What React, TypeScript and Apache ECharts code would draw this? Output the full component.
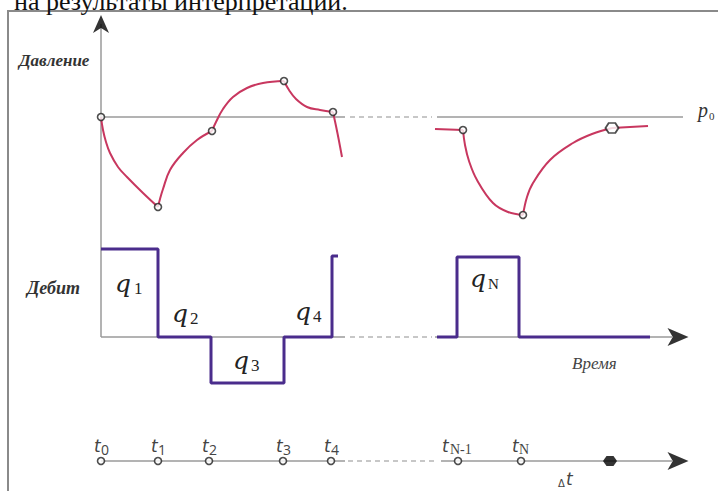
import React, { useEffect, useRef } from "react";
import * as echarts from "echarts";

const W = 718;
const H = 491;

// time axis positions (abstract time, px units of the diagram)
const timeNames = ["0", "1", "2", "3", "4", "N-1", "N"];
const timeX = [101, 158, 209, 283, 331, 458, 521];
const futureX = 610;
const timeAxisY = 461;

// reference levels
const p0Y = 117;
const rateZeroY = 337;
const axisLeftX = 101;
const axisTopY = 24;

// pressure curve segments [x, y]
const pSeg1 = [[101, 117], [103, 130], [106, 142], [110, 153], [118, 167], [127, 177], [143, 193], [158, 207]];
const pSeg2 = [[158, 207], [160, 199], [163, 189], [170, 170], [183, 153], [197, 140], [212, 131]];
const pSeg3 = [[212, 131], [216, 122], [223, 109], [233, 97], [247, 88], [263, 83], [284, 81]];
const pSeg4 = [[284, 81], [289, 90], [296, 99], [307, 107], [320, 110], [333, 112]];
const pSeg5 = [[333, 112], [336, 126], [339, 141], [342, 157]];
const pSeg6 = [[435, 129], [463, 130]];
const pSeg7 = [[463, 130], [465, 145], [469, 161], [477, 180], [493, 203], [508, 212], [523, 215]];
const pSeg8 = [[523, 215], [527, 197], [533, 183], [550, 160], [573, 143], [592, 134], [612, 128]];
const pSeg9 = [[612, 128], [648, 126]];
const pressureMarkers = [[101, 117], [158, 207], [212, 131], [284, 81], [333, 112], [463, 130], [523, 215]];
const pressureLast = [[612, 128]];

// rate steps [x, y]
const rateSteps1 = [[101, 249], [158, 249], [158, 337], [211, 337], [211, 383], [284, 383], [284, 337], [332, 337], [332, 256], [338, 256]];
const rateSteps2 = [[437, 337], [457, 337], [457, 257], [519, 257], [519, 337], [650, 337]];

// rate labels: [subscript, q x, q body centre y, sub x, sub centre y]
const rateLabels: [string, number, number, number, number][] = [
  ["1", 115, 286, 134, 288],
  ["2", 172, 316, 190, 318],
  ["3", 233, 363, 251, 365],
  ["4", 295, 314, 313, 316],
  ["N", 470, 281, 488, 284],
];

const GRAY = "#9a9a9a";
const RED = "#c8375f";
const PURPLE = "#4a2c8c";

const arrowUp = "path://M0,0 L8,18 L0,13 L-8,18 Z";
const arrowRight = "path://M0,0 L-20,-9 L-15,0 L-20,9 Z";
const hexSym = "path://M-7,0 L-3.5,-5 L3.5,-5 L7,0 L3.5,5 L-3.5,5 Z";

const SERIF = "'Liberation Serif', 'DejaVu Serif', serif";
const QFONT = "'DejaVu Serif', serif";
const SANS = "'DejaVu Sans', sans-serif";

function line(data: number[][], color: string, width: number, opts: any = {}) {
  return {
    type: "line",
    data,
    showSymbol: false,
    symbol: "none",
    silent: true,
    lineStyle: { color, width, ...opts.lineStyle },
    smooth: opts.smooth ?? false,
    z: opts.z ?? 2,
  };
}

function txt(text: string, x: number, y: number, style: any) {
  return {
    type: "text",
    x,
    y,
    silent: true,
    style: { text, align: "left", verticalAlign: "middle", ...style },
  };
}

export default function App() {
  const ref = useRef<HTMLDivElement>(null);
  useEffect(() => {
    if (!ref.current) return;
    const chart = echarts.init(ref.current, null, { renderer: "svg" });
    const series: any[] = [];
    // p0 line
    series.push(line([[axisLeftX, p0Y], [345, p0Y]], GRAY, 1.5));
    series.push(line([[350, p0Y], [432, p0Y]], "#b5b5b5", 1.5, { lineStyle: { type: [5, 4] } }));
    series.push(line([[437, p0Y], [683, p0Y]], GRAY, 1.5));
    // vertical axis
    series.push(line([[axisLeftX, axisTopY], [axisLeftX, rateZeroY]], GRAY, 1.5));
    // rate zero line
    series.push(line([[axisLeftX, rateZeroY], [345, rateZeroY]], GRAY, 1.5));
    series.push(line([[350, rateZeroY], [432, rateZeroY]], "#b5b5b5", 1.5, { lineStyle: { type: [5, 4] } }));
    series.push(line([[435, rateZeroY], [672, rateZeroY]], GRAY, 1.5));
    // time axis
    series.push(line([[axisLeftX, timeAxisY], [345, timeAxisY]], GRAY, 1.5));
    series.push(line([[348, timeAxisY], [438, timeAxisY]], "#b5b5b5", 1.5, { lineStyle: { type: [5, 4] } }));
    series.push(line([[441, timeAxisY], [672, timeAxisY]], GRAY, 1.5));
    // pressure curves
    [pSeg1, pSeg2, pSeg3, pSeg4, pSeg5, pSeg7, pSeg8].forEach((s) =>
      series.push(line(s, RED, 2, { smooth: 0.4, z: 3 }))
    );
    [pSeg6, pSeg9].forEach((s) => series.push(line(s, RED, 2, { z: 3 })));
    // rate steps
    series.push(line(rateSteps1, PURPLE, 3, { z: 4 }));
    series.push(line(rateSteps2, PURPLE, 3, { z: 4 }));
    // markers
    series.push({
      type: "scatter",
      data: pressureMarkers,
      symbol: "circle",
      symbolSize: 7,
      itemStyle: { color: "#fff", borderColor: "#222", borderWidth: 1.6 },
      z: 5,
      silent: true,
    });
    series.push({
      type: "scatter",
      data: pressureLast,
      symbol: hexSym,
      symbolSize: [13, 10],
      itemStyle: { color: "#fff", borderColor: "#222", borderWidth: 1.8 },
      z: 5,
      silent: true,
    });
    series.push({
      type: "scatter",
      data: timeX.map((x) => [x, timeAxisY]),
      symbol: "circle",
      symbolSize: 7,
      itemStyle: { color: "#fff", borderColor: "#222", borderWidth: 1.6 },
      z: 5,
      silent: true,
    });
    series.push({
      type: "scatter",
      data: [[futureX, timeAxisY]],
      symbol: hexSym,
      symbolSize: [14, 10],
      itemStyle: { color: "#000" },
      z: 5,
      silent: true,
    });
    // arrows
    series.push({
      type: "scatter",
      data: [[axisLeftX, 24]],
      symbol: arrowUp,
      symbolSize: [16, 18],
      itemStyle: { color: "#000" },
      z: 6,
      silent: true,
    });
    series.push({
      type: "scatter",
      data: [[678, rateZeroY], [678, timeAxisY]],
      symbol: arrowRight,
      symbolSize: [21, 18],
      itemStyle: { color: "#000" },
      z: 6,
      silent: true,
    });

    const graphics: any[] = [
      {
        type: "polyline",
        shape: { points: [[8, H], [8, 11], [W, 11]] },
        style: { stroke: "#8a8a8a", lineWidth: 2, fill: "none" },
        silent: true,
      },
      {
        type: "text",
        x: 14,
        y: 14,
        silent: true,
        style: {
          text: "на результаты интерпретации.",
          fontSize: 26,
          fontFamily: SERIF,
          fill: "#111",
          align: "left",
          verticalAlign: "bottom",
        },
      },
      txt("Давление", 19, 60, { fontSize: 17, fontStyle: "italic", fontWeight: "bold", fontFamily: SERIF, fill: "#333" }),
      txt("Дебит", 27, 288, { fontSize: 18, fontStyle: "italic", fontWeight: "bold", fontFamily: SERIF, fill: "#333" }),
      txt("Время", 572, 363, { fontSize: 17, fontStyle: "italic", fontFamily: SERIF, fill: "#444" }),
      txt("p", 698, 110, { fontSize: 20, fontStyle: "italic", fontFamily: SERIF, fill: "#333" }),
      txt("0", 709, 116, { fontSize: 11, fontFamily: SERIF, fill: "#333" }),
      txt("Δ", 558, 483, { fontSize: 10, fontFamily: SANS, fill: "#444" }),
      txt("t", 566, 479, { fontSize: 17, fontStyle: "italic", fontFamily: SANS, fill: "#444" }),
    ];
    rateLabels.forEach(([sub, qx, qy, sx, sy]) => {
      graphics.push(txt("q", qx, qy - 3, { fontSize: 25, fontStyle: "italic", fontFamily: QFONT, fill: "#222" }));
      graphics.push(txt(sub, sx, sy, { fontSize: sub === "N" ? 15 : 17, fontFamily: SERIF, fill: "#222" }));
    });
    timeNames.forEach((name, i) => {
      const x = timeX[i];
      const isNm1 = name === "N-1";
      const isN = name === "N";
      const tx = isNm1 ? x - 16 : isN ? x - 9 : x - 7;
      const sx = isNm1 ? x - 8 : isN ? x - 2 : x;
      graphics.push(txt("t", tx, 446, { fontSize: 17, fontStyle: "italic", fontFamily: SANS, fill: "#444" }));
      graphics.push(
        txt(name, sx, 449, {
          fontSize: 14,
          fontFamily: isNm1 || isN ? SERIF : "'Open Sans', sans-serif",
          fill: "#444",
        })
      );
    });

    chart.setOption({
      animation: false,
      grid: { left: 0, right: 0, top: 0, bottom: 0 },
      xAxis: { type: "value", min: 0, max: W, show: false },
      yAxis: { type: "value", min: 0, max: H, inverse: true, show: false },
      series,
      graphic: graphics,
    });
    return () => chart.dispose();
  }, []);
  return (
    <div
      ref={ref}
      style={{ position: "fixed", left: 0, top: 0, width: W, height: H, background: "#fff" }}
    />
  );
}
